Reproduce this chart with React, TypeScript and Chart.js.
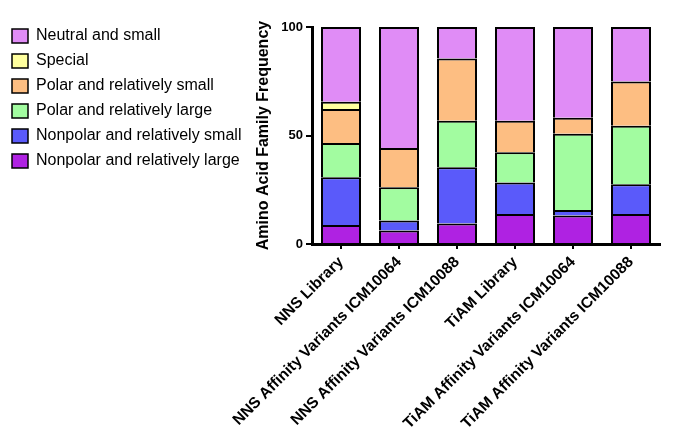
import React, { useEffect, useRef } from "react";
import { Chart, registerables } from "chart.js";

Chart.register(...registerables);

const categories = [
  "NNS Library",
  "NNS Affinity Variants ICM10064",
  "NNS Affinity Variants ICM10088",
  "TiAM Library",
  "TiAM Affinity Variants ICM10064",
  "TiAM Affinity Variants ICM10088",
];

const nonpolarLarge = [8.8, 6.2, 9.5, 13.8, 13.1, 13.8];
const nonpolarSmall = [22.0, 4.6, 25.9, 14.5, 2.6, 13.7];
const polarLarge = [15.7, 15.4, 21.4, 14.0, 35.1, 27.0];
const polarSmall = [15.7, 18.0, 28.7, 14.5, 7.4, 20.4];
const special = [3.3, 0, 0, 0, 0, 0];
const neutralSmall = [34.5, 55.8, 14.5, 43.2, 41.8, 25.1];

const yTicks = [0, 50, 100];

const FONT = "'Liberation Sans', Arial, Helvetica, sans-serif";

const legendPlacement = {
  id: "legendPlacement",
  beforeLayout(chart: any) {
    const lg = chart.legend;
    if (lg && !lg.__wrapped) {
      const orig = lg.fit.bind(lg);
      lg.fit = function () {
        orig();
        this.width = 247;
      };
      lg.__wrapped = true;
    }
  },
  afterLayout(chart: any) {
    const lg = chart.legend;
    if (lg) {
      const h = lg.bottom - lg.top;
      lg.top = 19;
      lg.bottom = 19 + h;
    }
  },
};

export default function App() {
  const ref = useRef<HTMLCanvasElement | null>(null);

  useEffect(() => {
    document.body.style.margin = "0";
    const canvas = ref.current;
    if (!canvas) return;
    const mk = (label: string, data: number[], color: string) => ({
      label,
      data,
      backgroundColor: color,
      borderColor: "#000000",
      borderWidth: { left: 2, right: 2, top: 2, bottom: 0 },
      borderSkipped: false as const,
      barPercentage: 0.69,
      categoryPercentage: 1.0,
    });
    const chart = new Chart(canvas, {
      type: "bar",
      data: {
        labels: categories,
        datasets: [
          mk("Nonpolar and relatively large", nonpolarLarge, "#AF22E2"),
          mk("Nonpolar and relatively small", nonpolarSmall, "#5A5AFA"),
          mk("Polar and relatively large", polarLarge, "#A2FCA0"),
          mk("Polar and relatively small", polarSmall, "#FDBE82"),
          mk("Special", special, "#FFFF9E"),
          mk("Neutral and small", neutralSmall, "#E08CF6"),
        ],
      },
      plugins: [legendPlacement],
      options: {
        responsive: false,
        animation: false,
        layout: { padding: { top: 27, left: 3, right: 15, bottom: 0 } },
        plugins: {
          tooltip: { enabled: false },
          legend: {
            position: "left",
            align: "start",
            reverse: true,
            labels: {
              boxWidth: 16,
              boxHeight: 14,
              padding: 9,
              color: "#000",
              font: { family: FONT, size: 16 },
            },
          },
        },
        scales: {
          x: {
            stacked: true,
            offset: true,
            afterFit: (s: any) => {
              s.height = 197;
            },
            border: { display: true, color: "#000", width: 3 },
            grid: {
              display: true,
              drawOnChartArea: false,
              drawTicks: true,
              tickLength: 5,
              offset: false,
              color: "#000",
              lineWidth: 2,
            },
            ticks: {
              minRotation: 45,
              maxRotation: 45,
              autoSkip: false,
              color: "#000",
              padding: 4,
              font: { family: FONT, size: 15.5, weight: "bold" },
            },
          },
          y: {
            stacked: true,
            min: 0,
            max: 100,
            afterFit: (s: any) => {
              s.width = 62;
            },
            afterBuildTicks: (scale: any) => {
              scale.ticks = yTicks.map((v) => ({ value: v }));
            },
            border: { display: true, color: "#000", width: 3 },
            grid: {
              display: true,
              drawOnChartArea: false,
              drawTicks: true,
              tickLength: 6,
              color: "#000",
              lineWidth: 2,
            },
            ticks: {
              color: "#000",
              padding: 3,
              font: { family: FONT, size: 13, weight: "bold" },
            },
            title: {
              display: true,
              text: "Amino Acid Family Frequency",
              color: "#000",
              padding: { top: 4, bottom: 4 },
              font: { family: FONT, size: 16, weight: "bold" },
            },
          },
        },
      },
    });
    return () => chart.destroy();
  }, []);

  return (
    <div style={{ width: 675, height: 441 }}>
      <canvas ref={ref} width={675} height={441} />
    </div>
  );
}
